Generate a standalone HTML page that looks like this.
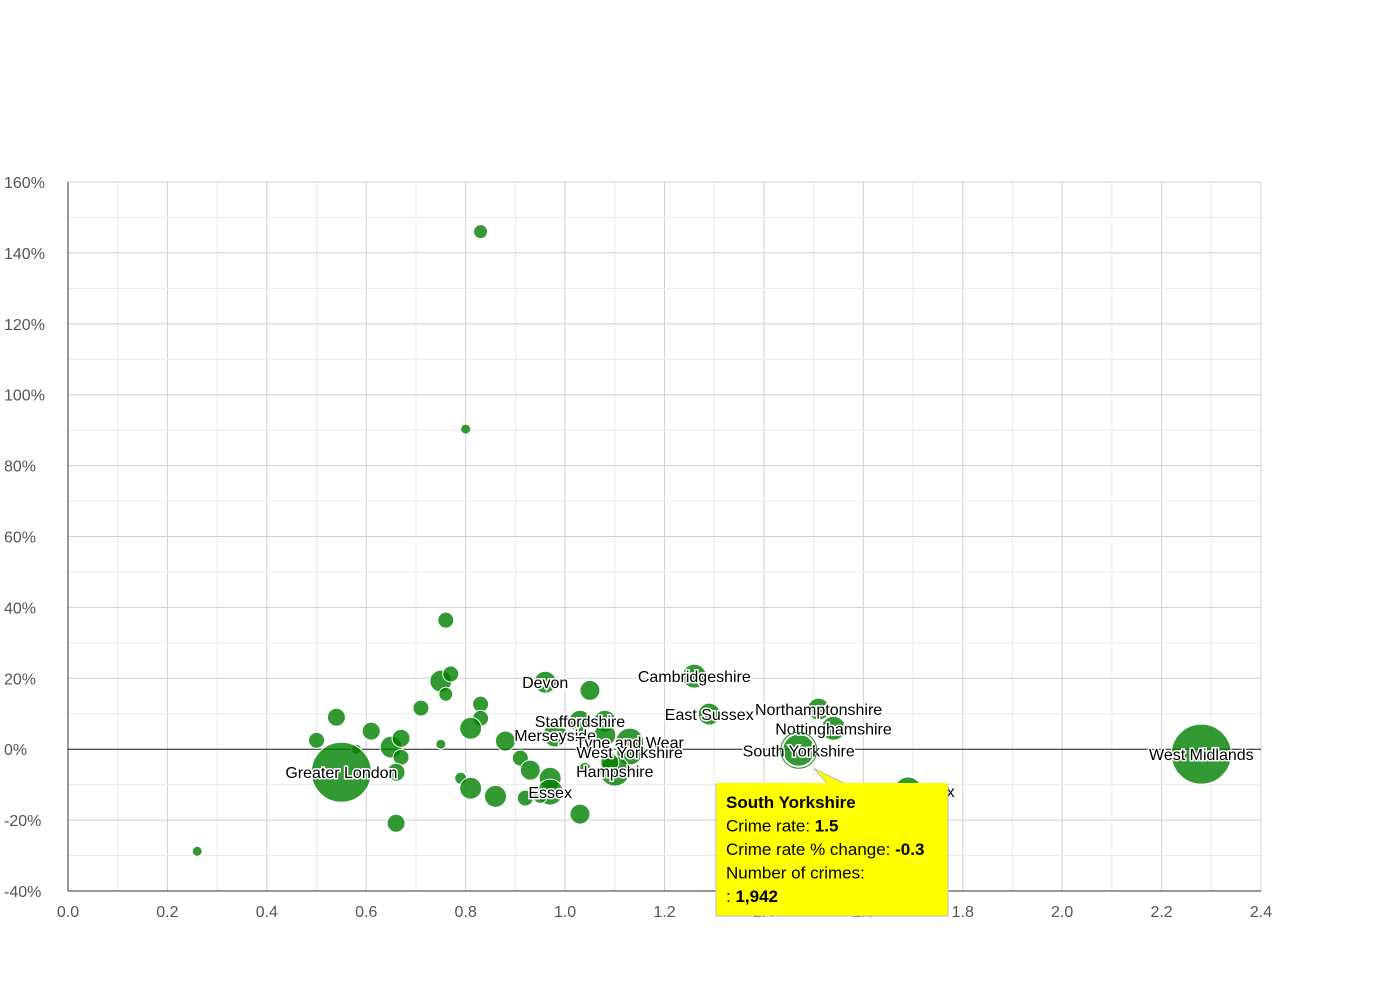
<!DOCTYPE html>
<html><head><meta charset="utf-8"><style>
body{margin:0;background:#fff;width:1390px;height:980px;overflow:hidden;font-family:"Liberation Sans",sans-serif}
svg text{font-family:"Liberation Sans",sans-serif}
</style></head><body>
<svg id="chart" width="1390" height="980" xmlns="http://www.w3.org/2000/svg">
<g id="grid"></g>
<g id="axes"></g>
<g id="bubbles"></g>
<g id="labels"></g>
<g id="tooltip"></g>
</svg>
<script>
const names=["","","","","","","","","","","","","","","","Greater London","","","","","","","","","","","","","","","Essex","","Devon","","Staffordshire","","Merseyside","","Tyne and Wear","West Yorkshire","Hampshire","","","","Cambridgeshire","East Sussex","Northamptonshire","Nottinghamshire","South Yorkshire","West Sussex","West Midlands"];
const crimeRate=[0.83,0.80,0.76,0.75,0.77,0.76,0.71,0.83,0.83,0.81,0.75,0.54,0.61,0.50,0.58,0.55,0.65,0.67,0.67,0.66,0.66,0.26,0.79,0.81,0.86,0.88,0.91,0.93,0.92,0.97,0.97,0.95,0.96,1.05,1.03,1.08,0.98,1.08,1.13,1.13,1.10,1.09,1.04,1.03,1.26,1.29,1.51,1.54,1.47,1.69,2.28];
const pctChange=[146,90.3,36.4,19.2,21.2,15.5,11.6,12.7,8.7,5.9,1.4,9.0,5.1,2.5,0,-6.5,0.6,3.1,-2.3,-6.5,-20.9,-28.8,-8.2,-11,-13.3,2.3,-2.5,-5.9,-13.8,-8.2,-12.1,-13.3,18.9,16.6,7.9,7.9,4.0,4.0,2.0,-0.8,-6.2,-3.7,-5.4,-18.3,20.6,9.9,11.3,5.9,-0.3,-11.8,-1.4];
const crimes=[372,190,486,918,486,372,486,486,486,918,190,615,615,486,190,6830,918,615,486,615,615,190,273,918,918,759,486,759,486,918,1283,372,918,759,918,918,1093,918,1487,1283,1708,615,273,759,1093,918,918,1093,1942,1487,6830];
const xTicks=["0.0","0.2","0.4","0.6","0.8","1.0","1.2","1.4","1.6","1.8","2.0","2.2","2.4"];
const yTicks=["160%","140%","120%","100%","80%","60%","40%","20%","0%","-20%","-40%"];
const NS="http://www.w3.org/2000/svg";
const X0=68,X1=1261,Y0=182,Y1=891,xMin=0,xMax=2.4,yMin=-40,yMax=160;
const sx=v=>X0+(v-xMin)/(xMax-xMin)*(X1-X0);
const sy=v=>Y1-(v-yMin)/(yMax-yMin)*(Y1-Y0);
const rr=c=>Math.max(5,0.363*Math.sqrt(c));
function mk(t,a,p){const e=document.createElementNS(NS,t);for(const k in a)e.setAttribute(k,a[k]);p.appendChild(e);return e;}
const grid=document.getElementById('grid'),axes=document.getElementById('axes');
for(let v=0;v<=2.4001;v+=0.1){const l=mk('line',{x1:sx(v),x2:sx(v),y1:Y0,y2:Y1,stroke:Math.round(v*10)%2?'#ebebeb':'#d0d0d0'},grid);

}
for(let v=-40;v<=160;v+=10){const l=mk('line',{x1:X0,x2:X1,y1:sy(v),y2:sy(v),stroke:(v%20)?'#ebebeb':'#d0d0d0'},grid);

}
mk('line',{x1:X0,x2:X0,y1:Y0,y2:Y1,stroke:'#333'},axes);
mk('line',{x1:X0,x2:X1,y1:Y1,y2:Y1,stroke:'#333'},axes);
const zl=mk('line',{x1:X0,x2:X1,y1:sy(0),y2:sy(0),stroke:'#222'},axes);


xTicks.forEach(t=>{const e=mk('text',{x:sx(parseFloat(t)),y:917,'text-anchor':'middle','font-size':16,fill:'#555'},axes);e.textContent=t;

});
yTicks.forEach(t=>{const e=mk('text',{x:4,y:sy(parseFloat(t))+6,'font-size':16,fill:'#555'},axes);e.textContent=t;

});
const bg=document.getElementById('bubbles'),lg=document.getElementById('labels');
crimeRate.forEach((v,i)=>{const c=mk('circle',{cx:sx(v),cy:sy(pctChange[i]),r:rr(crimes[i]),fill:'rgba(0,128,0,0.8)',stroke:'#fff','stroke-width':1},bg);


if(names[i]){const t=mk('text',{x:sx(v),y:sy(pctChange[i])+6,'text-anchor':'middle','font-size':16,fill:'#000',stroke:'#fff','stroke-width':3,'paint-order':'stroke'},lg);t.textContent=names[i];

}});
const sel=48,tg=document.getElementById('tooltip');
const px=sx(crimeRate[sel]),py=sy(pctChange[sel]);
mk('circle',{cx:px,cy:py,r:rr(crimes[sel])+2,fill:'none',stroke:'#2a8a2a','stroke-width':1},tg);
mk('polygon',{points:`${px+15},${py+18} ${px+30},${py+35} ${px+50},${py+35}`,fill:'#ffff00',stroke:'#bbb'},tg);
mk('rect',{x:716,y:784,width:232,height:132,fill:'#ffff00',stroke:'#bbb'},tg);
mk('rect',{x:717,y:783,width:230,height:3,fill:'#ffff00'},tg);
const lines=[["South Yorkshire","",""],["Crime rate: ","1.5"],["Crime rate % change: ","-0.3"],["Number of crimes:",""],[": ","1,942"]];
lines.forEach((l,k)=>{const t=mk('text',{x:726,y:808+k*23.5,'font-size':17,fill:'#000'},tg);
if(k===0){t.setAttribute('font-weight','bold');t.textContent=l[0];}
else{const a=mk('tspan',{},t);a.textContent=l[0];const b=mk('tspan',{'font-weight':'bold'},t);b.textContent=l[1];}

});
</script>
</body></html>
